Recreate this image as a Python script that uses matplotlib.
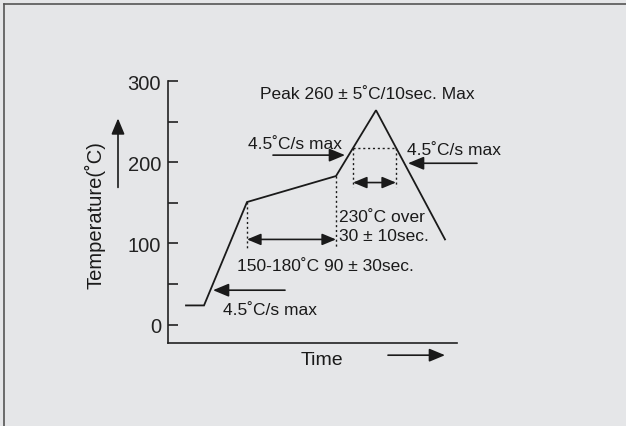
import matplotlib
matplotlib.use("Agg")
import matplotlib.pyplot as plt
from matplotlib.lines import Line2D

# reflow profile (time in arbitrary units)
profile_time = [18, 36, 79, 168, 208, 277]
profile_temp = [23.75, 23.75, 151, 183, 264, 105]

# 230C window (dotted box) and soak window
window_t = [185, 228]
window_temp = [217.5, 170]
soak_t = [79, 168]
soak_bottom = 95

ytick_vals = [0, 50, 100, 150, 200, 250, 300]
ytick_labels = ["0", "", "100", "", "200", "", "300"]

bg = "#e5e6e8"
plt.rcParams["font.family"] = ["Liberation Sans", "DejaVu Sans"]

fig = plt.figure(figsize=(6.26, 4.27), dpi=100, facecolor=bg)
ax = fig.add_axes([168 / 626, 83 / 427, 289 / 626, 262 / 427])
ax.set_facecolor(bg)
ax.patch.set_alpha(0)

ax.set_xlim(0, 289)
ax.set_ylim(-22.5, 300)

for s in ["top", "right"]:
    ax.spines[s].set_visible(False)
ax.spines["left"].set_bounds(-22.5, 300)
for s in ["left", "bottom"]:
    ax.spines[s].set_linewidth(1.2)
    ax.spines[s].set_color("#222222")

ax.set_yticks(ytick_vals)
ax.set_yticklabels(ytick_labels)
ax.tick_params(axis="y", direction="in", length=7, width=1.2, pad=5,
               labelsize=14.5, colors="#222222")
ax.set_xticks([])

lc = "#1a1a1a"
ax.plot(profile_time, profile_temp, color=lc, lw=1.3, solid_joinstyle="miter")

# dotted box around 230C window
dot = dict(color=lc, lw=1.0, ls=(0, (1.5, 2)))
ax.plot([window_t[0], window_t[1]], [window_temp[0], window_temp[0]], **dot)
ax.plot([window_t[0], window_t[0]], window_temp, **dot)
ax.plot([window_t[1], window_t[1]], window_temp, **dot)

# dotted soak markers
ax.plot([soak_t[0], soak_t[0]], [151, soak_bottom], **dot)
ax.plot([soak_t[1], soak_t[1]], [183, soak_bottom], **dot)

arr = dict(arrowstyle="-|>,head_length=0.6,head_width=0.25", color=lc, lw=1.2,
           mutation_scale=16, shrinkA=0, shrinkB=0)
darr = dict(arrowstyle="<|-|>,head_length=0.6,head_width=0.25", color=lc, lw=1.2,
            mutation_scale=14, shrinkA=0, shrinkB=0)

# double arrows
ax.annotate("", xy=(window_t[1], 175), xytext=(window_t[0], 175), arrowprops=darr)
ax.annotate("", xy=(soak_t[1], 105), xytext=(soak_t[0], 105), arrowprops=darr)

# single arrows
ax.annotate("", xy=(177, 208.75), xytext=(105, 208.75), arrowprops=arr)
ax.annotate("", xy=(240, 198.75), xytext=(309, 198.75), arrowprops=arr,
            annotation_clip=False)
ax.annotate("", xy=(45, 42.5), xytext=(117, 42.5), arrowprops=arr)
ax.annotate("", xy=(277, -37.5), xytext=(220, -37.5), arrowprops=arr,
            annotation_clip=False)
ax.annotate("", xy=(-50, 254), xytext=(-50, 169), arrowprops=arr,
            annotation_clip=False)

fs = 12.5
tc = "#1a1a1a"
ax.text(199.5, 285, "Peak 260 ± 5˚C/10sec. Max", ha="center", va="center",
        fontsize=fs, color=tc)
ax.text(80, 217.5, "4.5˚C/s max", ha="left", va="baseline", fontsize=fs, color=tc)
ax.text(239, 210, "4.5˚C/s max", ha="left", va="baseline", fontsize=fs, color=tc,
        clip_on=False)
ax.text(171, 127.5, "230˚C over", ha="left", va="baseline", fontsize=fs, color=tc)
ax.text(171, 103.75, "30 ± 10sec.", ha="left", va="baseline", fontsize=fs, color=tc)
ax.text(69, 67.5, "150-180˚C 90 ± 30sec.", ha="left", va="baseline", fontsize=fs,
        color=tc)
ax.text(55, 13.75, "4.5˚C/s max", ha="left", va="baseline", fontsize=fs, color=tc)
ax.text(153.5, -43, "Time", ha="center", va="center", fontsize=14, color=tc,
        clip_on=False)
ax.text(-73, 136, "Temperature(˚C)", ha="center", va="center", rotation=90,
        fontsize=14.5, color=tc, clip_on=False)

# frame along top and left edge of the picture
fig.add_artist(Line2D([4 / 626, 1], [1 - 4.5 / 427, 1 - 4.5 / 427],
                      transform=fig.transFigure, color="#555555", lw=1.2))
fig.add_artist(Line2D([4 / 626, 4 / 626], [0, 1 - 4.5 / 427],
                      transform=fig.transFigure, color="#555555", lw=1.2))

fig.savefig("out.png", dpi=100, facecolor=bg)
